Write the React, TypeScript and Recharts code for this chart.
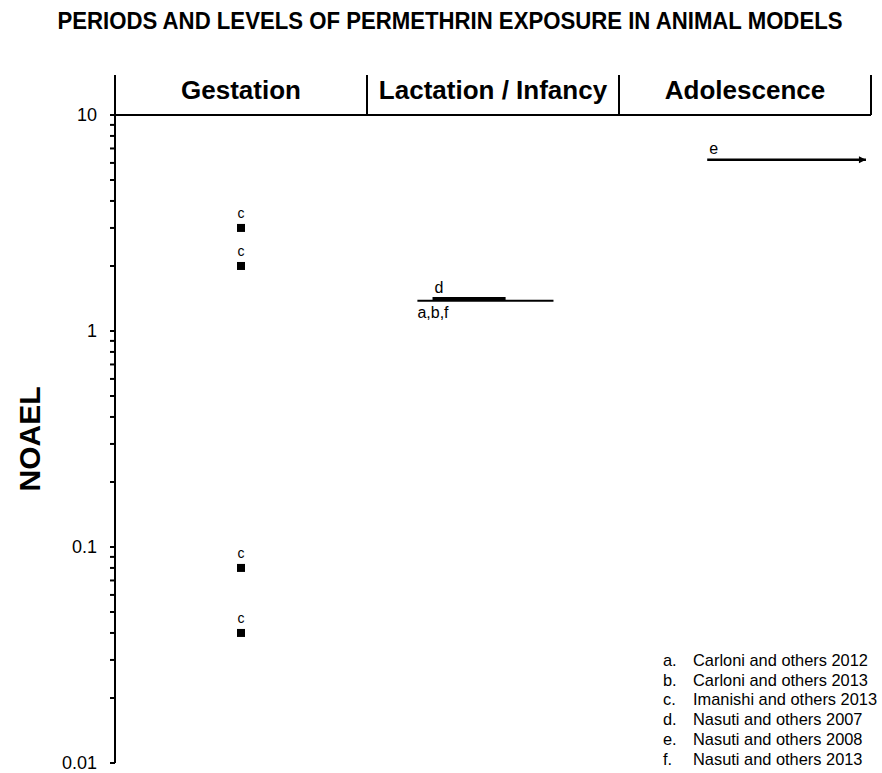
import { ScatterChart, Scatter, XAxis, YAxis } from 'recharts'

const FONT = '"Liberation Sans", Arial, sans-serif'

// exposure periods (x axis, one unit each)
const periods = ['Gestation', 'Lactation / Infancy', 'Adolescence']
const periodTicks = [0, 0.5, 1, 1.5, 2, 2.5, 3]

// log axis ticks
const yTicks = [
  0.01, 0.02, 0.03, 0.04, 0.05, 0.06, 0.07, 0.08, 0.09,
  0.1, 0.2, 0.3, 0.4, 0.5, 0.6, 0.7, 0.8, 0.9,
  1, 2, 3, 4, 5, 6, 7, 8, 9, 10,
]
const yLabels = [0.01, 0.1, 1, 10]

// single-dose gestation studies
const gestationX = [0.5, 0.5, 0.5, 0.5]
const gestationNoael = [3, 2, 0.08, 0.04]
const gestationRef = ['c', 'c', 'c', 'c']

// exposure windows drawn as lines
const segRefs = ['a,b,f', 'd', 'e']
const segFrom = [1.2, 1.26, 2.35]
const segTo = [1.74, 1.55, 2.98]
const segNoael = [1.38, 1.41, 6.2]
const segWidth = [2, 3.5, 2.5]
const segArrow = [false, false, true]
const segLabelBelow = [true, false, false]

const references = [
  ['a.', 'Carloni and others 2012'],
  ['b.', 'Carloni and others 2013'],
  ['c.', 'Imanishi and others 2013'],
  ['d.', 'Nasuti and others 2007'],
  ['e.', 'Nasuti and others 2008'],
  ['f.', 'Nasuti and others 2013'],
]

const pointData = gestationX.map((x, i) => ({ x, y: gestationNoael[i], ref: gestationRef[i] }))

const segData = segRefs.map((ref, i) => [
  { x: segFrom[i], y: segNoael[i], ref, start: true, below: segLabelBelow[i] },
  { x: segTo[i], y: segNoael[i], end: true, arrow: segArrow[i] },
])

const PointShape = ({ cx, cy, payload }: any) => (
  <g>
    <rect x={cx - 4} y={cy - 4} width={8} height={8} fill="#000" />
    <text x={cx} y={cy - 10} textAnchor="middle" fontSize={14} fontFamily={FONT} fill="#000">
      {payload.ref}
    </text>
  </g>
)

const SegShape = ({ cx, cy, payload }: any) => {
  if (payload.start) {
    return payload.below ? (
      <text x={cx} y={cy + 17} fontSize={16} fontFamily={FONT} fill="#000">{payload.ref}</text>
    ) : (
      <text x={cx + 2} y={cy - 6} fontSize={16} fontFamily={FONT} fill="#000">{payload.ref}</text>
    )
  }
  if (payload.arrow) {
    return <path d={`M${cx - 7},${cy - 3.5} L${cx},${cy} L${cx - 7},${cy + 3.5} Z`} fill="#000" />
  }
  return <g />
}

const PeriodTick = ({ x, y, payload }: any) => {
  const v = payload.value
  if (Number.isInteger(v)) {
    return <line x1={x} y1={y} x2={x} y2={y - 40} stroke="#000" strokeWidth={2} />
  }
  return (
    <text x={x} y={y - 16} textAnchor="middle" fontSize={26} fontWeight="bold" fontFamily={FONT} fill="#000">
      {periods[Math.floor(v)]}
    </text>
  )
}

export default function App() {
  return (
    <div style={{ position: 'absolute', left: 0, top: 0, width: 882, height: 773, background: '#fff' }}>
      <ScatterChart width={882} height={773} margin={{ top: 75, right: 11, bottom: 10, left: 25 }}>
        <XAxis
          xAxisId={0}
          type="number"
          dataKey="x"
          orientation="top"
          domain={[0, 3]}
          ticks={periodTicks}
          interval={0}
          height={40}
          tickSize={0}
          tickMargin={0}
          tick={<PeriodTick />}
          axisLine={{ stroke: '#000', strokeWidth: 2 }}
        />
        <YAxis
          type="number"
          dataKey="y"
          scale="log"
          domain={[0.01, 10]}
          allowDataOverflow
          ticks={yTicks}
          interval={0}
          width={90}
          tickSize={5}
          tickMargin={13}
          tickFormatter={(v: number) => (yLabels.some((l) => Math.abs(l - v) < 1e-9) ? String(v) : '')}
          tick={{ fill: '#000', fontSize: 18, fontFamily: FONT }}
          tickLine={{ stroke: '#000', strokeWidth: 2 }}
          axisLine={{ stroke: '#000', strokeWidth: 2 }}
          label={{
            value: 'NOAEL',
            angle: -90,
            position: 'insideLeft',
            offset: 4,
            style: { fontSize: 30, fontWeight: 'bold', fontFamily: FONT, fill: '#000', textAnchor: 'middle' },
          }}
        />
        <Scatter data={pointData} shape={<PointShape />} isAnimationActive={false} />
        {segData.map((d, i) => (
          <Scatter
            key={segRefs[i]}
            data={d}
            line={{ stroke: '#000', strokeWidth: segWidth[i] }}
            shape={<SegShape />}
            isAnimationActive={false}
          />
        ))}
      </ScatterChart>
      <svg width={882} height={773} style={{ position: 'absolute', left: 0, top: 0, pointerEvents: 'none' }}>
        <text
          x={450}
          y={29}
          textAnchor="middle"
          fontSize={23}
          fontFamily='"Liberation Sans Narrow", "Liberation Sans", Arial, sans-serif'
          fontWeight="bold"
          textLength={785}
          lengthAdjust="spacingAndGlyphs"
          fill="#000"
        >
          PERIODS AND LEVELS OF PERMETHRIN EXPOSURE IN ANIMAL MODELS
        </text>
        {references.map(([k, t], i) => (
          <g key={k} fontSize={16.4} fontFamily={FONT} fill="#000">
            <text x={663} y={666 + i * 19.7}>{k}</text>
            <text x={693} y={666 + i * 19.7}>{t}</text>
          </g>
        ))}
      </svg>
    </div>
  )
}
